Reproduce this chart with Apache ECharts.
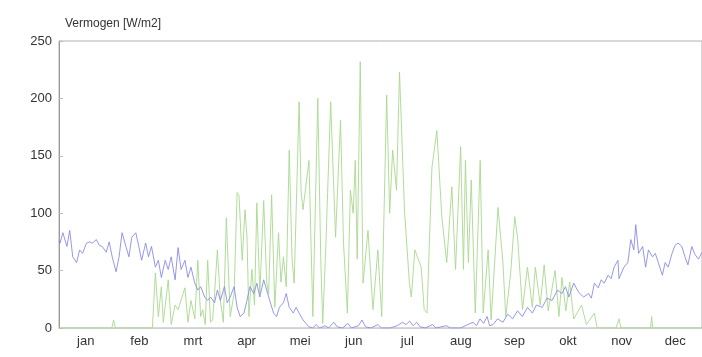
<!DOCTYPE html>
<html><head><meta charset="utf-8">
<script src="https://cdn.jsdelivr.net/npm/echarts@6/dist/echarts.min.js"></script>
<style>html,body{margin:0;padding:0;background:#fff}#c{width:702px;height:357px}</style>
</head><body><div id="c"></div>
<script>
const months = ['jan','feb','mrt','apr','mei','jun','jul','aug','sep','okt','nov','dec'];
const yTicks = [0, 50, 100, 150, 200, 250];

const blueDays = [0,0.6,2.2,4.5,6.1,7.8,10,11.7,13.4,15.6,17.3,19,21.2,22.9,24.6,26.8,28.5,30.2,32.4,34.1,35.8,38,39.7,41.3,43.6,45.3,46.9,49.2,50.8,52.5,54.7,56.4,58.1,60.3,62,63.7,65.9,67.6,69.3,71.5,73.2,74.9,77.1,78.8,80.4,82.7,84.4,86,88.3,89.9,91.6,93.9,95.5,97.2,99.4,101.1,102.8,105,106.7,108.4,110.6,112.3,114,116.2,117.9,119.6,121.8,123.5,125.1,127.4,129,130.7,133,134.6,136.3,138.5,140.2,141.9,144,146,148,151,153,156,158,161,164,166,170,172,174,177,181,183,188,192,195,197,199,201,203,205,208,212,214,220,222,228,232,235,237,239,241,243,244.5,246.4,249,252,254.7,257.5,260.3,263,266,268.7,271,274.3,277,279.9,283,285.5,287.5,289.4,292.2,295,297.8,300.6,302.2,303.9,306.1,307.8,309.5,311.7,313.4,315.1,317.3,317.9,320.7,322.9,324.6,326.3,327.4,329,331.3,333,334.6,336.9,338.5,340.2,342.5,344.1,345.8,348,349.7,351.4,353.6,355.3,357,359.2,361,363,365];
const blueVals = [76,74,83,71,85,62,57,68,65,74,75,74,77,72,71,66,75,62,49,62,83,71,62,79,83,71,59,74,62,71,53,59,44,59,51,62,42,70,51,59,44,53,39,33,36,27,24,27,22,33,24,36,22,27,36,18,10,13,24,36,30,39,27,42,33,24,13,10,18,22,30,18,13,18,13,7,4,1,0,3,0,2,0,5,1,0,4,0,2,7,1,0,3,0,0,2,5,3,6,2,5,1,0,3,0,2,0,0,3,5,2,8,4,10,2,3,8,5,12,8,15,10,18,13,20,18,26,24,33,30,36,27,39,31,27,30,26,39,35,42,39,46,43,53,59,43,53,57,77,68,90,65,71,53,68,62,65,57,46,57,53,65,72,74,71,62,55,71,64,60,66];

const greenDays = [0,30,31,32,53,54.7,56.4,58.1,59.2,62,63.7,65.9,67.6,71.5,73.2,74.9,77.1,78.8,80.4,81.6,83,84.4,86,87.2,88.3,89.9,91.6,93.3,95,97.2,99.4,101.1,102.2,104,105.6,106.7,107.8,109.5,111,112.3,114,116.2,117.9,119,120.7,122.5,124.6,126,127.4,129,130.7,132.3,133.5,136.3,137.4,138.5,141.9,144.1,146.9,148.6,149.7,151.4,154.2,157,159.8,161.5,163.7,165.4,167,168.2,169.3,171,172.6,175.4,178.2,181,183.2,186,187.7,189.4,191.6,193.3,196.1,198.9,200,202,205.6,207.3,208.9,211.7,214.5,217.3,220.1,223,225.1,228,229.6,230.7,232.4,234,236.3,239.1,240.8,243.6,245.3,249.2,252,253.6,256.4,258.7,260.3,263.1,265.9,268.7,270.4,273.2,275.4,277.7,281.6,283.8,285.5,287.7,289.9,292.2,296.6,299.4,303.9,305.5,316.2,317.9,319,335.8,336.4,337,365];
const greenVals = [0,0,7,0,0,48,10,36,5,42,3,20,16,35,5,24,8,59,10,16,3,59,5,7,30,68,24,5,96,10,30,118,115,59,103,80,10,51,20,109,30,111,40,30,116,18,83,40,62,36,155,60,39,197,120,103,146,10,200,60,4,68,197,79,181,74,13,120,100,146,60,232,39,85,16,68,10,203,100,155,120,223,103,39,27,68,53,16,13,140,172,97,57,123,51,158,51,146,57,129,13,146,13,68,7,105,57,10,48,97,79,16,53,18,53,20,55,15,50,10,44,15,40,8,20,3,13,0,0,8,0,0,10,0,0];

const blueData = blueDays.map((d, i) => [d, blueVals[i]]);
const greenData = greenDays.map((d, i) => [d, greenVals[i]]);

const chart = echarts.init(document.getElementById('c'), null, {renderer: 'canvas'});
const font = '"Liberation Sans", Arial, sans-serif';
chart.setOption({
  animation: false,
  backgroundColor: '#fff',
  title: {
    text: 'Vermogen [W/m2]', left: 60, top: 13,
    textStyle: {fontSize: 12, fontWeight: 'normal', color: '#333', fontFamily: font}
  },
  grid: {left: 59, right: -11, top: 41, bottom: 29, show: true, borderColor: '#b0b0b0', borderWidth: 1},
  xAxis: [
    {type: 'value', min: 0, max: 365, show: false},
    {type: 'category', data: months, boundaryGap: true, position: 'bottom',
     axisLine: {show: true, lineStyle: {color: '#d0d0d0'}}, axisTick: {show: false},
     axisLabel: {color: '#333', fontSize: 13, fontFamily: font, margin: 7}}
  ],
  yAxis: {
    type: 'value', min: yTicks[0], max: yTicks[yTicks.length - 1], interval: 50,
    axisLine: {show: true, lineStyle: {color: '#999'}},
    axisTick: {show: true, inside: true, length: 4, lineStyle: {color: '#bbb'}},
    splitLine: {show: false},
    axisLabel: {color: '#333', fontSize: 13, fontFamily: font, margin: 7}
  },
  series: [
    {type: 'line', name: 'green', xAxisIndex: 0, data: greenData, showSymbol: false,
     lineStyle: {width: 1, color: '#a8d88e', opacity: 0.9}},
    {type: 'line', name: 'blue', xAxisIndex: 0, data: blueData, showSymbol: false,
     lineStyle: {width: 1, color: '#8486e4', opacity: 0.85}}
  ]
});
</script></body></html>
